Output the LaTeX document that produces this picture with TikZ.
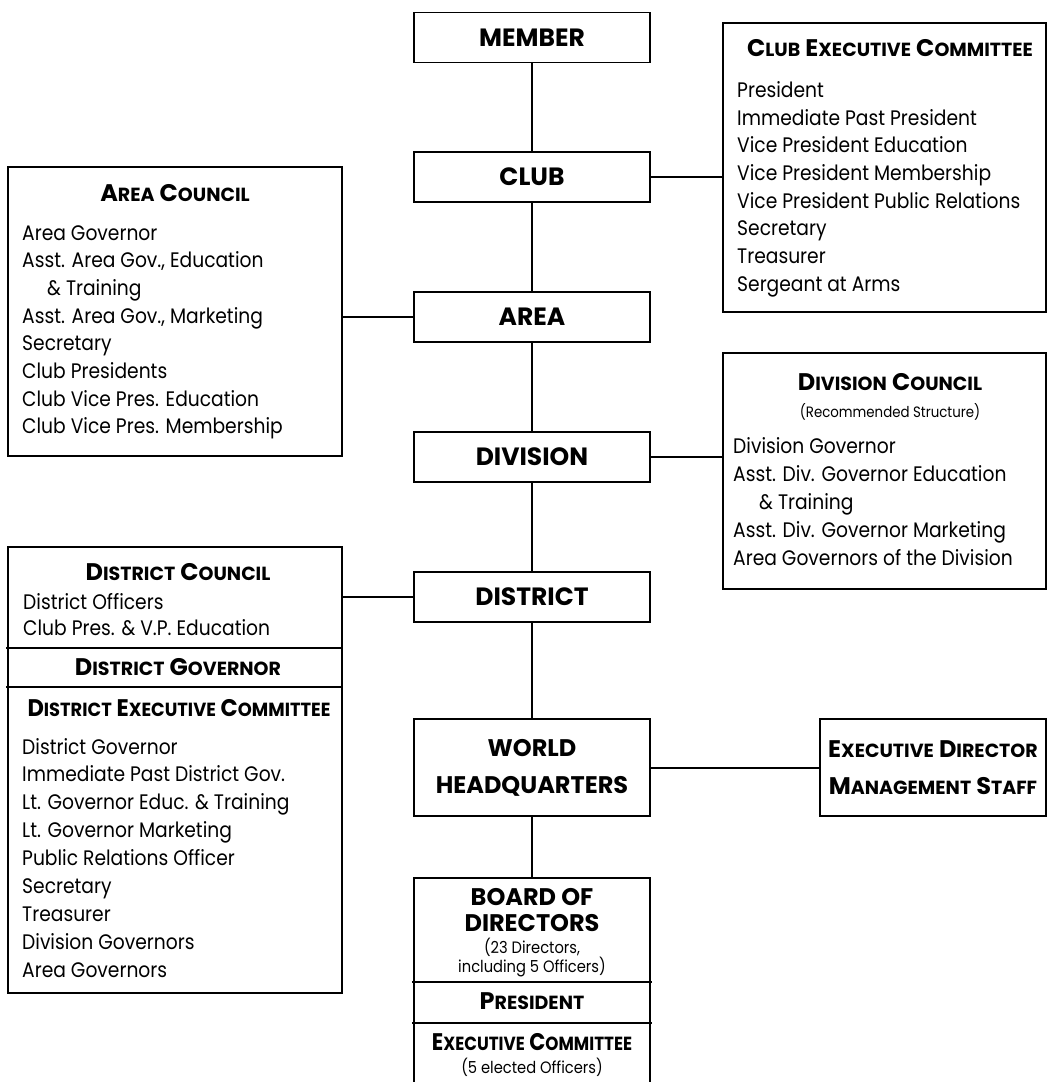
\documentclass[tikz,border=0pt]{standalone}
\usepackage{fontspec}
\setmainfont{Poppins}[UprightFeatures={FakeStretch=0.89}]
\newcommand\sk[1]{{\fontsize{19}{19}\selectfont #1}}
\begin{document}
\begin{tikzpicture}[x=1pt,y=-1pt,
  box/.style={draw, line width=1.5pt, rectangle, inner sep=0pt, outer sep=0pt},
  mainbox/.style={box, minimum width=236pt, minimum height=50pt, font=\bfseries\fontsize{25}{25}\selectfont},
  link/.style={line width=2pt},
  item/.style={anchor=base west, inner sep=0pt, font=\fontsize{21}{21}\selectfont},
  ttl/.style={anchor=base, inner sep=0pt, font=\bfseries\fontsize{24}{24}\selectfont},
  note/.style={anchor=base, inner sep=0pt, font=\fontsize{15}{15}\selectfont},
]
\useasboundingbox (0,0) rectangle (1048,1082);

% central column
\node[mainbox] (member) at (532,37.5) {MEMBER};
\node[mainbox] (club) at (532,177) {CLUB};
\node[mainbox] (area) at (532,317) {AREA};
\node[mainbox] (division) at (532,457) {DIVISION};
\node[mainbox] (district) at (532,597) {DISTRICT};
\node[mainbox, minimum height=97pt, align=center, font=\bfseries\fontsize{24}{37}\selectfont] (whq) at (532,767.5) {WORLD\\HEADQUARTERS};
\node[box, minimum width=226pt, minimum height=97pt, align=center, font=\bfseries\fontsize{24}{37}\selectfont] (exec) at (933,767.5) {E\sk{XECUTIVE} D\sk{IRECTOR}\\M\sk{ANAGEMENT} S\sk{TAFF}};
\node[box, minimum width=236pt, minimum height=212pt, anchor=north] (board) at (532,878) {};

% side boxes
\node[box, minimum width=323pt, minimum height=289pt, anchor=north west] (cec) at (723,23) {};
\node[box, minimum width=334pt, minimum height=289pt, anchor=north west] (acouncil) at (8,167) {};
\node[box, minimum width=323pt, minimum height=236pt, anchor=north west] (dcouncil) at (723,353) {};
\node[box, minimum width=334pt, minimum height=446pt, anchor=north west] (distbox) at (8,547) {};

% connectors
\draw[link] (member) -- (club);
\draw[link] (club) -- (area);
\draw[link] (area) -- (division);
\draw[link] (division) -- (district);
\draw[link] (district) -- (whq);
\draw[link] (whq) -- (board);
\draw[link] (club.east) -- (club.east -| cec.west);
\draw[link] (area.west) -- (area.west -| acouncil.east);
\draw[link] (division.east) -- (division.east -| dcouncil.west);
\draw[link] (district.west) -- (district.west -| distbox.east);
\draw[link] (whq) -- (exec);

% Club Executive Committee
\node[ttl] (cect) at (890,56) {C\sk{LUB} E\sk{XECUTIVE} C\sk{OMMITTEE}};
\foreach \t [count=\i from 0] in {President, Immediate Past President, Vice President Education, Vice President Membership, Vice President Public Relations, Secretary, Treasurer, Sergeant at Arms}
  \node[item] (ceci\i) at (737,97.5+27.65*\i) {\t};

% Area Council
\node[ttl] (act) at (175,201) {A\sk{REA} C\sk{OUNCIL}};
\foreach \t [count=\i from 0] in {Area Governor, {Asst. Area Gov., Education}, \hspace*{25pt}\& Training, {Asst. Area Gov., Marketing}, Secretary, Club Presidents, Club Vice Pres. Education, Club Vice Pres. Membership}
  \node[item] (aci\i) at (22,240+27.7*\i) {\t};

% Division Council
\node[ttl] (dct) at (890,390) {D\sk{IVISION} C\sk{OUNCIL}};
\node[note] (dcn) at (890,417) {(Recommended Structure)};
\foreach \t [count=\i from 0] in {Division Governor, Asst. Div. Governor Education, \hspace*{26pt}\& Training, Asst. Div. Governor Marketing, Area Governors of the Division}
  \node[item] (dci\i) at (733,453+28.2*\i) {\t};

% District box
\node[ttl] (distt) at (178,580) {D\sk{ISTRICT} C\sk{OUNCIL}};
\node[item] (disti0) at (23,609) {District Officers};
\node[item] (disti1) at (23,635) {Club Pres. \& V.P. Education};
\draw[box] (6,648) -- (342,648);
\node[ttl] (distg) at (178,675) {D\sk{ISTRICT} G\sk{OVERNOR}};
\draw[box] (6,687) -- (342,687);
\node[ttl] (diste) at (179,716) {\scalebox{0.94}[1]{D\sk{ISTRICT} E\sk{XECUTIVE} C\sk{OMMITTEE}}};
\foreach \t [count=\i from 0] in {District Governor, Immediate Past District Gov., Lt. Governor Educ. \& Training, Lt. Governor Marketing, Public Relations Officer, Secretary, Treasurer, Division Governors, Area Governors}
  \node[item] (dei\i) at (22,754+27.9*\i) {\t};

% Board of Directors
\node[ttl] (bd1) at (532,905.5) {BOARD OF};
\node[ttl] (bd2) at (532,931.5) {DIRECTORS};
\node[note, font=\fontsize{16.5}{16.5}\selectfont] (bd3) at (532,953) {(23 Directors,};
\node[note, font=\fontsize{16.5}{16.5}\selectfont] (bd4) at (532,972) {including 5 Officers)};
\draw[box] (412,982) -- (652,982);
\node[ttl] (bpres) at (532,1009) {P\sk{RESIDENT}};
\draw[box] (412,1023) -- (652,1023);
\node[ttl] (bexec) at (532,1050) {\scalebox{0.88}[1]{E\sk{XECUTIVE} C\sk{OMMITTEE}}};
\node[note, font=\fontsize{16.5}{16.5}\selectfont] (bexn) at (532,1073) {(5 elected Officers)};
\end{tikzpicture}
\end{document}
